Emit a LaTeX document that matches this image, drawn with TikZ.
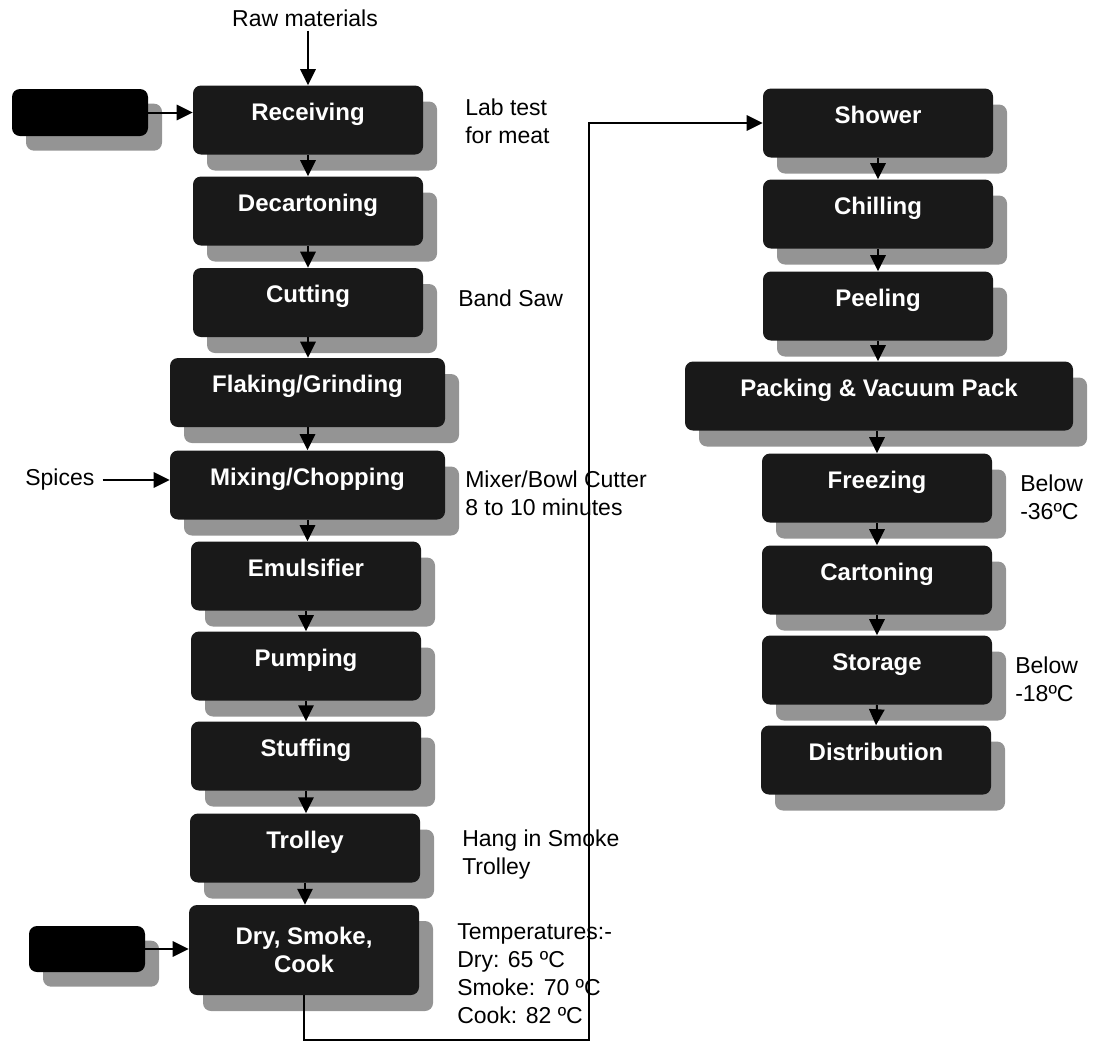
\documentclass[tikz,border=0pt]{standalone}
\usepackage{fontspec}
\setmainfont{Liberation Sans}
\usetikzlibrary{arrows.meta,shadows}
\begin{document}
\begin{tikzpicture}[x=0.75pt,y=-0.75pt,
  box/.style={fill=black!90, rounded corners=6pt, text=white,
    font=\bfseries\fontsize{18pt}{21pt}\selectfont, align=center,
    minimum width=172.5pt, minimum height=51.75pt, inner sep=0pt,
    drop shadow={shadow xshift=10.5pt, shadow yshift=-12pt, fill=black!42, opacity=1}},
  stage/.style={box, text height=9pt, text depth=9pt},
  srcbox/.style={fill=black, rounded corners=6pt, inner sep=0pt,
    drop shadow={shadow xshift=10.5pt, shadow yshift=-11pt, fill=black!42, opacity=1}},
  note/.style={anchor=west, align=left, inner sep=0pt,
    font=\fontsize{17.25pt}{21pt}\selectfont},
  flow/.style={-{Triangle[length=12pt,width=11.5pt]}, line width=1.5pt}]
\useasboundingbox (0,0) rectangle (1098,1040);

% left column of process steps
\node[stage] (recv)    at (308,120)   {Receiving};
\node[stage] (decart)  at (308,211)   {Decartoning};
\node[stage] (cut)     at (308,302.5) {Cutting};
\node[stage, minimum width=206.25pt] (flake) at (307.5,392.5) {Flaking/Grinding};
\node[stage, minimum width=206.25pt] (mix)   at (307.5,485)   {Mixing/Chopping};
\node[stage] (emul)    at (306,576)   {Emulsifier};
\node[stage] (pump)    at (306,666)   {Pumping};
\node[stage] (stuff)   at (306,756)   {Stuffing};
\node[stage] (trolley) at (305,848)   {Trolley};
\node[box, minimum height=67.5pt] (dsc) at (304,950) {Dry, Smoke,\\Cook};

% side inputs
\node[srcbox, minimum width=102pt, minimum height=35.25pt] (src1) at (80,112.5) {};
\node[srcbox, minimum width=87pt, minimum height=34.5pt] (src2) at (87,949) {};
\node[note, anchor=center] (raw) at (305,18) {Raw materials};
\node[note] (spices) at (25,480) {Spices};

% right column of process steps
\node[stage] (shower)  at (878,123) {Shower};
\node[stage] (chill)   at (878,214) {Chilling};
\node[stage] (peel)    at (878,306) {Peeling};
\node[stage, minimum width=291pt] (pack) at (879,396) {Packing \& Vacuum Pack};
\node[stage] (freeze)  at (877,488) {Freezing};
\node[stage] (carton)  at (877,580) {Cartoning};
\node[stage] (store)   at (877,670) {Storage};
\node[stage] (distrib) at (876,760) {Distribution};

% remarks beside the steps
\node[note] (lab)    at (465,121) {Lab test\\for meat};
\node[note] (saw)    at (458,298) {Band Saw};
\node[note] (mixer)  at (465,493) {Mixer/Bowl Cutter\\8 to 10 minutes};
\node[note] (hang)   at (462,855) {Hang in Smoke\\Trolley};
\node[note] (temps)  at (457,974) {Temperatures:-\\Dry: 65 ºC\\Smoke: 70 ºC\\Cook: 82 ºC};
\node[note] (b36)    at (1020,497) {Below\\-36ºC};
\node[note] (b18)    at (1015,679) {Below\\-18ºC};

% flow arrows, left column
\draw[flow] ([yshift=-3pt]recv.north |- raw.south) -- (recv.north);
\draw[flow] (src1.east) -- (src1.east -| recv.west);
\draw[flow] (recv.south) -- (decart.north);
\draw[flow] (decart.south) -- (cut.north);
\draw[flow] (cut.south) -- (cut.south |- flake.north);
\draw[flow] (flake.south) -- (flake.south |- mix.north);
\draw[flow] ([xshift=6pt]spices.east) -- (mix.west |- spices.east);
\draw[flow] (mix.south) -- (mix.south |- emul.north);
\draw[flow] (emul.south) -- (pump.north);
\draw[flow] (pump.south) -- (stuff.north);
\draw[flow] (stuff.south) -- (stuff.south |- trolley.north);
\draw[flow] (trolley.south) -- (trolley.south |- dsc.north);
\draw[flow] (src2.east) -- (src2.east -| dsc.west);

% link from the smokehouse to the right column
\coordinate (low) at (589,1039.5);
\draw[flow] (dsc.south) |- (low) |- (shower.west);

% flow arrows, right column
\draw[flow] (shower.south) -- (chill.north);
\draw[flow] (chill.south) -- (peel.north);
\draw[flow] (peel.south) -- (peel.south |- pack.north);
\draw[flow] (pack.south -| freeze.north) -- (freeze.north);
\draw[flow] (freeze.south) -- (carton.north);
\draw[flow] (carton.south) -- (store.north);
\draw[flow] (store.south) -- (distrib.north);
\end{tikzpicture}
\end{document}
